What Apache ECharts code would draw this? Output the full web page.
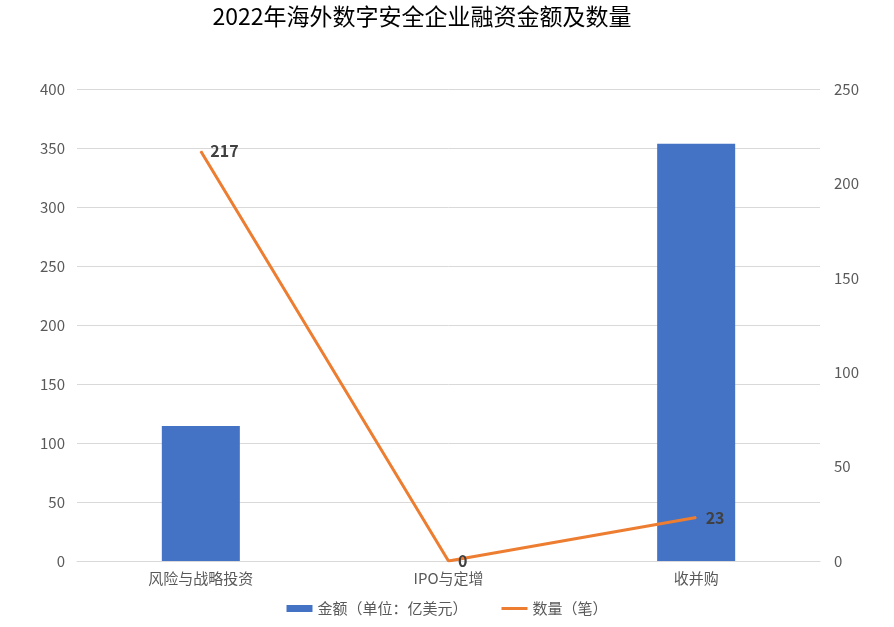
<!DOCTYPE html>
<html>
<head>
<meta charset="utf-8">
<script src="https://cdn.jsdelivr.net/npm/echarts@6/dist/echarts.min.js"></script>
<style>
  html, body { margin: 0; padding: 0; background: #fff; }
  #main { width: 894px; height: 627px; }
</style>
</head>
<body>
<div id="main"></div>
<script>
  // 图表数据
  var categories = ['风险与战略投资', 'IPO与定增', '收并购'];
  var amounts = [114.5, 0, 353.5];   // 金额（单位：亿美元）
  var counts = [217, 0, 23];         // 数量（笔）
  var leftTicks = [0, 400, 50];
  var rightTicks = [0, 250, 50];

  var chart = echarts.init(document.getElementById('main'));
  var font = '"Microsoft YaHei", "Noto Sans CJK SC", sans-serif';
  var option = {
    animation: false,
    textStyle: { fontFamily: font },
    title: {
      text: '2022年海外数字安全企业融资金额及数量',
      left: 417,
      textAlign: 'center',
      top: 0,
      textStyle: { fontSize: 23, fontWeight: 'normal', color: '#000', fontFamily: font }
    },
    grid: { left: 77, right: 74, top: 89, bottom: 66 },
    legend: {
      bottom: 6,
      left: 'center',
      itemGap: 34,
      itemWidth: 26,
      itemHeight: 7,
      textStyle: { fontSize: 15, color: '#595959', fontFamily: font },
      data: [
        { name: '金额（单位：亿美元）', icon: 'rect' },
        { name: '数量（笔）', icon: 'path://M0,0 L26,0 L26,3 L0,3 Z', itemStyle: { color: '#ED7D31' } }
      ]
    },
    xAxis: {
      type: 'category',
      data: categories,
      axisTick: { show: false },
      axisLine: { lineStyle: { color: '#D9D9D9' } },
      axisLabel: { fontSize: 15, color: '#595959', margin: 10 }
    },
    yAxis: [{
      type: 'value',
      min: leftTicks[0], max: leftTicks[1], interval: leftTicks[2],
      axisLabel: { fontSize: 15, color: '#595959', margin: 12 },
      splitLine: { lineStyle: { color: '#D9D9D9' } },
      axisLine: { show: false }, axisTick: { show: false }
    }, {
      type: 'value',
      min: rightTicks[0], max: rightTicks[1], interval: rightTicks[2],
      axisLabel: { fontSize: 15, color: '#595959', margin: 14 },
      splitLine: { show: false },
      axisLine: { show: false }, axisTick: { show: false }
    }],
    series: [{
      name: '金额（单位：亿美元）',
      type: 'bar',
      data: amounts,
      barWidth: '31.5%',
      itemStyle: { color: '#4472C4' }
    }, {
      name: '数量（笔）',
      type: 'line',
      yAxisIndex: 1,
      data: counts,
      symbol: 'circle',
      symbolSize: 1,
      showSymbol: true,
      lineStyle: { color: '#ED7D31', width: 3 },
      itemStyle: { color: '#ED7D31' },
      label: {
        show: true,
        position: 'right',
        distance: 9,
        fontSize: 16,
        fontWeight: 'bold',
        color: '#404040'
      }
    }]
  };
  chart.setOption(option);
</script>
</body>
</html>
